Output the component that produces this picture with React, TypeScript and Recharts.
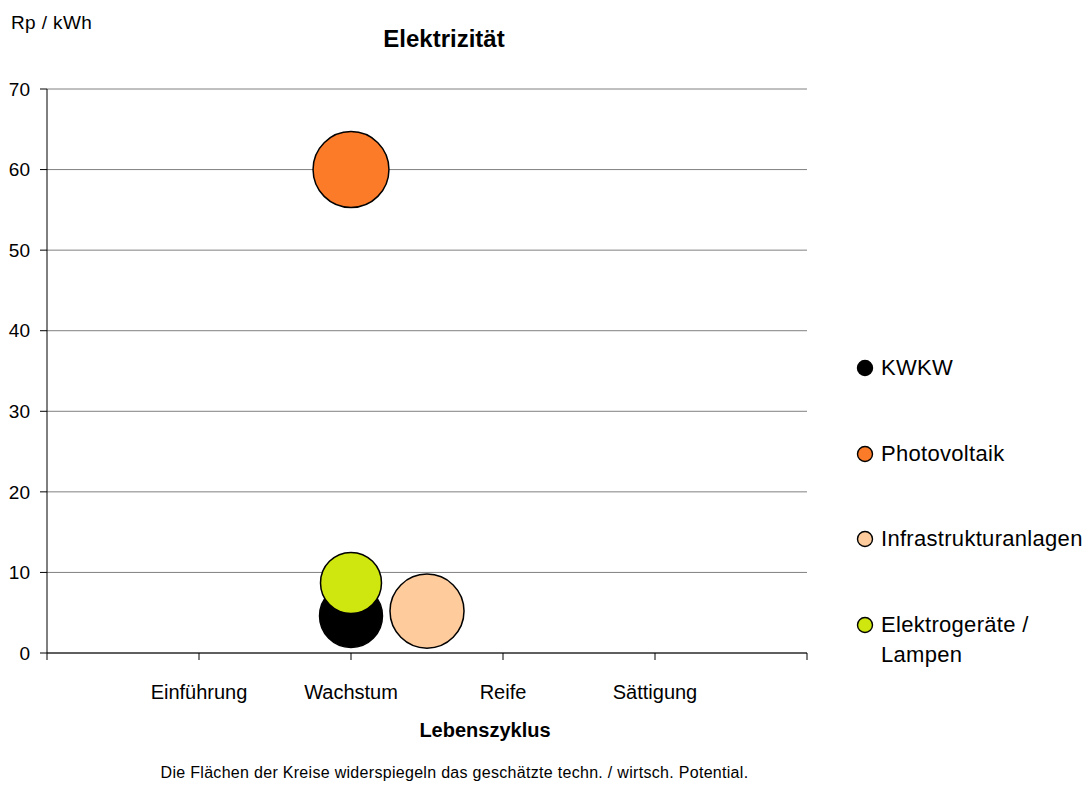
import React from 'react';
import { ScatterChart, Scatter, XAxis, YAxis, ZAxis, CartesianGrid } from 'recharts';

document.body.style.margin = '0';

const stageLabels = ['', 'Einführung', 'Wachstum', 'Reife', 'Sättigung', ''];
const seriesNames = ['KWKW', 'Photovoltaik', 'Infrastrukturanlagen', 'Elektrogeräte / Lampen'];
const seriesColors = ['#000000', '#FC7B28', '#FDCB9C', '#CFE60F'];
const stageValues = [2, 2, 2.5, 2];
const costValues = [4.6, 60, 5.2, 8.7];
const potentialValues = [990, 1440, 1370, 930];
const yTicks = [0, 10, 20, 30, 40, 50, 60, 70];

const font = '"Liberation Sans", Arial, sans-serif';

const StageTick = (props: any) => {
    const { x, y, payload } = props;
    return (
        <text x={x} y={y + 37} textAnchor="middle" fontSize={20} fill="#000" fontFamily={font}>
            {stageLabels[payload.value]}
        </text>
    );
};

const LegendBox = () => (
    <div style={{ position: 'absolute', left: 0, top: 0, fontFamily: font, fontSize: 22, letterSpacing: 0.3, color: '#000' }}>
        {seriesNames.map((name, i) => {
            const cy = 368 + 85.5 * i;
            return (
                <React.Fragment key={name}>
                    <svg width={20} height={20} style={{ position: 'absolute', left: 855, top: cy - 10 }}>
                        <circle cx={10} cy={10} r={7.5} fill={seriesColors[i]} stroke="#000" strokeWidth={1.4} />
                    </svg>
                    <div style={{ position: 'absolute', left: 881, top: cy - 15, lineHeight: '30px', width: 206, whiteSpace: 'nowrap' }}>
                        {name === 'Elektrogeräte / Lampen' ? (<>Elektrogeräte /<br />Lampen</>) : name}
                    </div>
                </React.Fragment>
            );
        })}
    </div>
);

const App: React.FC = () => {
    return (
        <div style={{ position: 'relative', width: 1087, height: 785, background: '#fff', fontFamily: font, overflow: 'hidden' }}>
            <div style={{ position: 'absolute', left: 11, top: 13, fontSize: 19, lineHeight: '19px', letterSpacing: 0.4 }}>Rp / kWh</div>
            <div style={{ position: 'absolute', left: 0, width: 888, top: 27, textAlign: 'center', fontSize: 24, lineHeight: '24px', fontWeight: 'bold' }}>
                Elektrizität
            </div>
            <ScatterChart width={1087} height={785} margin={{ top: 89, right: 280, left: 7, bottom: 102 }}>
                <CartesianGrid vertical={false} stroke="#808080" />
                <XAxis
                    type="number"
                    dataKey="x"
                    domain={[0, 5]}
                    ticks={[0, 1, 2, 3, 4, 5]}
                    height={30}
                    tickSize={7}
                    stroke="#000"
                    tick={<StageTick />}
                    interval={0}
                />
                <YAxis
                    type="number"
                    dataKey="y"
                    domain={[0, 70]}
                    ticks={yTicks}
                    width={40}
                    tickSize={7}
                    tickMargin={10}
                    stroke="#000"
                    tick={{ fill: '#000', fontSize: 19, fontFamily: font }}
                    interval={0}
                />
                <ZAxis type="number" dataKey="z" domain={[0, 1500]} range={[0, 1500 * Math.PI]} />
                {seriesNames.map((name, i) => (
                    <Scatter
                        key={name}
                        name={name}
                        data={[{ x: stageValues[i], y: costValues[i], z: potentialValues[i] }]}
                        fill={seriesColors[i]}
                        stroke="#000"
                        strokeWidth={1.5}
                        isAnimationActive={false}
                    />
                ))}
            </ScatterChart>
            <LegendBox />
            <div style={{ position: 'absolute', left: 0, width: 970, top: 720, textAlign: 'center', fontSize: 20, lineHeight: '20px', fontWeight: 'bold' }}>
                Lebenszyklus
            </div>
            <div style={{ position: 'absolute', left: 0, width: 909, top: 765, textAlign: 'center', fontSize: 16, lineHeight: '16px', letterSpacing: 0.3 }}>
                Die Flächen der Kreise widerspiegeln das geschätzte techn. / wirtsch. Potential.
            </div>
        </div>
    );
};

export default App;
